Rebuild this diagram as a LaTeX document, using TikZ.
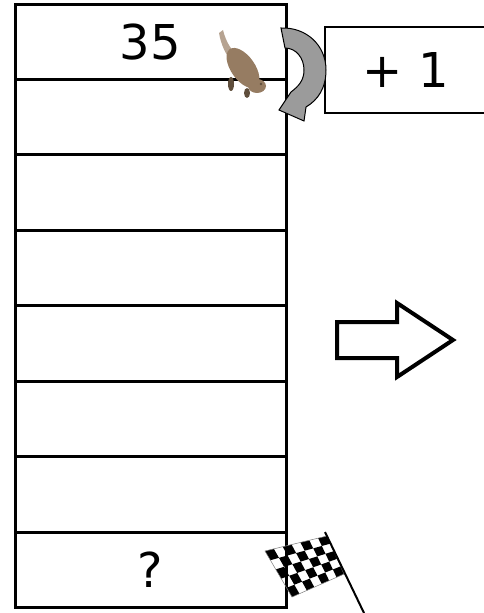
\documentclass[tikz,border=0pt]{standalone}
\usepackage{fontspec}
\setmainfont{DejaVu Sans}
\usetikzlibrary{positioning,calc}
\definecolor{turngray}{RGB}{155,155,155}
\definecolor{beaver}{RGB}{150,124,98}
\definecolor{beaverdark}{RGB}{95,78,60}
\newcommand{\bignum}{\fontsize{36}{40}\selectfont}
\begin{document}
\begin{tikzpicture}[x=0.75pt,y=-0.75pt,
    cell/.style={draw,line width=2.25pt,minimum width=203.25pt,minimum height=56.6pt,inner sep=0pt,outer sep=0pt,font=\bignum},
    incbox/.style={draw,line width=1.5pt,minimum width=121.5pt,minimum height=64.5pt,inner sep=0pt,font=\bignum},
    turn/.style={fill=turngray,draw=black,line width=0.75pt,line join=miter},
    bigarrow/.style={draw=black,line width=3pt,line join=miter,fill=white}]

    \useasboundingbox (0,0) rectangle (484,613);
    \clip (0,0) rectangle (484,613);

    % the column of cells
    \node[cell] (r1) at (150.5,41.75) {35};
    \node[cell,below=0pt of r1] (r2) {};
    \node[cell,below=0pt of r2] (r3) {};
    \node[cell,below=0pt of r3] (r4) {};
    \node[cell,below=0pt of r4] (r5) {};
    \node[cell,below=0pt of r5] (r6) {};
    \node[cell,below=0pt of r6] (r7) {};
    \node[cell,below=0pt of r7] (r8) {?};

    \node[incbox] (inc) at (406,70.5) {+ 1};

    % curved gray arrow
    \path[turn] (281,28) .. controls (306,27) and (326,45) .. (326,70)
        .. controls (326,88) and (318,100) .. (306,107) -- (304,121) -- (279,110) -- (291,92)
        .. controls (299,86) and (304,80) .. (304,70)
        .. controls (304,58) and (296,48) .. (285,48) -- cycle;

    % beaver
    \fill[beaver!70] (219,33) .. controls (221,45) and (226,55) .. (232,62) -- (239,57)
        .. controls (231,50) and (226,42) .. (223,30) -- cycle;
    \fill[beaver,rotate around={-55:(243,68)}] (243,68) ellipse [x radius=23, y radius=12];
    \fill[beaver] (257,86) ellipse [x radius=9, y radius=7];
    \fill[beaverdark] (231,84) ellipse [x radius=3, y radius=7];
    \fill[beaverdark] (247,93) ellipse [x radius=3, y radius=5];
    \fill[beaverdark] (261,84) circle (1.3);

    % big arrow
    \draw[bigarrow] (337,322) -- (397,322) -- (397,303) -- (453,340) -- (397,377) -- (397,358) -- (337,358) -- cycle;

    % checkered flag
    \coordinate (fA) at (265,551);
    \coordinate (fB) at (327,536);
    \coordinate (fC) at (344,574);
    \coordinate (fD) at (292,597);
    \foreach \i in {0,...,6}{
      \foreach \j in {0,...,4}{
        \pgfmathtruncatemacro\odd{mod(\i+\j,2)}
        \pgfmathsetmacro\sa{\i/7}
        \pgfmathsetmacro\sb{(\i+1)/7}
        \pgfmathsetmacro\ta{\j/5}
        \pgfmathsetmacro\tb{(\j+1)/5}
        \ifnum\odd=0
          \fill ($($(fA)!\sa!(fB)$)!\ta!($(fD)!\sa!(fC)$)$) -- ($($(fA)!\sb!(fB)$)!\ta!($(fD)!\sb!(fC)$)$)
            -- ($($(fA)!\sb!(fB)$)!\tb!($(fD)!\sb!(fC)$)$) -- ($($(fA)!\sa!(fB)$)!\tb!($(fD)!\sa!(fC)$)$) -- cycle;
        \fi
      }
    }
    \draw[gray,line width=0.4pt] (fA) -- (fB) -- (fC) -- (fD) -- cycle;
    \coordinate (poletop) at (325,532);
    \coordinate (polefoot) at (364,613);
    \draw[line width=1.5pt] (poletop) -- (polefoot);
\end{tikzpicture}
\end{document}
